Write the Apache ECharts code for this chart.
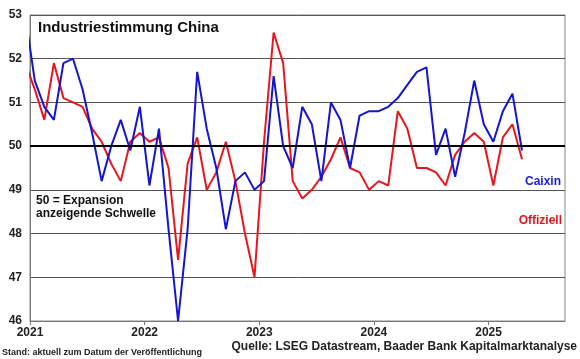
<!DOCTYPE html>
<html>
<head>
<meta charset="utf-8">
<script src="https://cdn.jsdelivr.net/npm/echarts@6/dist/echarts.min.js"></script>
<style>html,body{margin:0;padding:0;background:#fff}#c{width:580px;height:359px}</style>
</head>
<body>
<div id="c"></div>
<script>
// Monthly PMI values, Dec 2020 .. Apr 2025
const months = ['2020-12',
 '2021-01','2021-02','2021-03','2021-04','2021-05','2021-06','2021-07','2021-08','2021-09','2021-10','2021-11','2021-12',
 '2022-01','2022-02','2022-03','2022-04','2022-05','2022-06','2022-07','2022-08','2022-09','2022-10','2022-11','2022-12',
 '2023-01','2023-02','2023-03','2023-04','2023-05','2023-06','2023-07','2023-08','2023-09','2023-10','2023-11','2023-12',
 '2024-01','2024-02','2024-03','2024-04','2024-05','2024-06','2024-07','2024-08','2024-09','2024-10','2024-11','2024-12',
 '2025-01','2025-02','2025-03','2025-04'];
const caixin = [53.0,
 51.5,50.9,50.6,51.9,52.0,51.3,50.3,49.2,50.0,50.6,49.9,50.9,
 49.1,50.4,48.1,46.0,48.1,51.7,50.4,49.5,48.1,49.2,49.4,49.0,
 49.2,51.6,50.0,49.5,50.9,50.5,49.2,51.0,50.6,49.5,50.7,50.8,
 50.8,50.9,51.1,51.4,51.7,51.8,49.8,50.4,49.3,50.3,51.5,50.5,
 50.1,50.8,51.2,49.9];
const offiziell = [51.9,
 51.3,50.6,51.9,51.1,51.0,50.9,50.4,50.1,49.6,49.2,50.1,50.3,
 50.1,50.2,49.5,47.4,49.6,50.2,49.0,49.4,50.1,49.2,48.0,47.0,
 50.1,52.6,51.9,49.2,48.8,49.0,49.3,49.7,50.2,49.5,49.4,49.0,
 49.2,49.1,50.8,50.4,49.5,49.5,49.4,49.1,49.8,50.1,50.3,50.1,
 49.1,50.2,50.5,49.7];
const startYear = 2021;
const yearLabels = ['2021','2022','2023','2024','2025'];
const threshold = 50;

function monthPos(s){ const [y,m]=s.split('-').map(Number); return (y-startYear)*12 + (m-1) + 0.5; }
function pairs(vals){ return months.map((m,i)=>[monthPos(m), vals[i]]); }
const yearTicks = yearLabels.map((y,i)=>i*12);

const FONT = 'Liberation Sans, Arial, sans-serif';
const chart = echarts.init(document.getElementById('c'), null, {renderer:'canvas'});
chart.setOption({
  animation:false,
  backgroundColor:'#fff',
  grid:{left:30,right:15,top:15,bottom:38,show:true,borderColor:'#888',borderWidth:1,backgroundColor:'transparent'},
  xAxis:{type:'value',min:0,max:56,interval:12,
    axisLine:{show:true,onZero:false,lineStyle:{color:'#777',width:1}},
    axisTick:{show:true,length:4,lineStyle:{color:'#777'},customValues:yearTicks},
    splitLine:{show:false},
    axisLabel:{margin:6,fontFamily:FONT,fontWeight:'bold',fontSize:12,color:'#222',customValues:yearTicks,
      formatter:v=>yearLabels[Math.round(v/12)]||''}},
  yAxis:{type:'value',min:46,max:53,interval:1,
    axisLine:{show:true,lineStyle:{color:'#777'}},
    axisTick:{show:false},
    splitLine:{show:true,lineStyle:{color:'#555',width:1}},
    axisLabel:{margin:8,fontFamily:FONT,fontWeight:'bold',fontSize:12,color:'#222'}},
  graphic:[
    {type:'text',left:38,top:20,style:{text:'Industriestimmung China',font:'bold 15px '+FONT,fill:'#111'}},
    {type:'text',left:36,top:194,style:{text:'50 = Expansion\nanzeigende Schwelle',font:'bold 12px '+FONT,fill:'#111',lineHeight:13}},
    {type:'text',right:19,top:176,style:{text:'Caixin',font:'bold 12px '+FONT,fill:'#1a1adc',align:'right'}},
    {type:'text',right:18,top:215,style:{text:'Offiziell',font:'bold 12px '+FONT,fill:'#e0161d',align:'right'}},
    {type:'text',left:2,top:348,style:{text:'Stand: aktuell zum Datum der Veröffentlichung',font:'bold 9px '+FONT,fill:'#222'}},
    {type:'text',right:3,top:341,style:{text:'Quelle: LSEG Datastream, Baader Bank Kapitalmarktanalyse',font:'bold 12px '+FONT,fill:'#222',align:'right'}}
  ],
  series:[
    {name:'Caixin',type:'line',data:pairs(caixin),symbol:'none',clip:true,
     lineStyle:{color:'#1414d2',width:2},z:3,
     markLine:{silent:true,symbol:'none',label:{show:false},lineStyle:{color:'#000',width:2,type:'solid'},data:[{yAxis:threshold}]}},
    {name:'Offiziell',type:'line',data:pairs(offiziell),symbol:'none',clip:true,
     lineStyle:{color:'#e8161c',width:2},z:2}
  ]
});
</script>
</body>
</html>
